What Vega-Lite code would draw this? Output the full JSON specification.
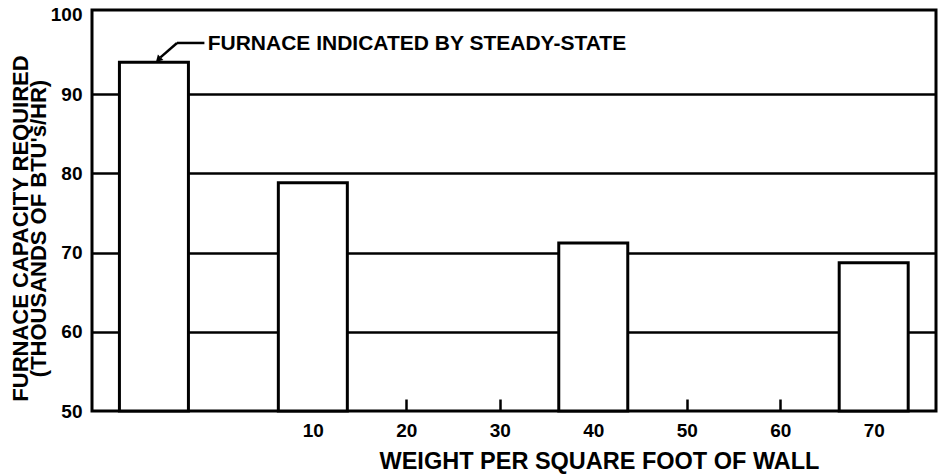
{
  "$schema": "https://vega.github.io/schema/vega-lite/v6.json",
  "width": 844,
  "height": 401,
  "autosize": "none",
  "padding": {"left": 92, "top": 10, "right": 5, "bottom": 63},
  "background": "white",
  "config": {
    "view": {"stroke": "black", "strokeWidth": 3},
    "font": "Liberation Sans"
  },
  "data": {
    "values": [
      {"case": "Steady-state", "weight": -7, "capacity": 94.0},
      {"case": "10", "weight": 10, "capacity": 78.8},
      {"case": "40", "weight": 40, "capacity": 71.2},
      {"case": "70", "weight": 70, "capacity": 68.7}
    ]
  },
  "layer": [
    {
      "mark": {"type": "bar", "width": 69, "fill": "white", "stroke": "black", "strokeWidth": 3},
      "encoding": {
        "x": {
          "field": "weight", "type": "quantitative",
          "scale": {"domain": [-13.09, 76.13], "nice": false, "zero": false},
          "axis": {
            "values": [10, 20, 30, 40, 50, 60, 70],
            "domain": false,
            "grid": false,
            "ticks": true,
            "tickSize": -12,
            "tickWidth": 2.5,
            "tickColor": "black",
            "labelFont": "Liberation Sans",
            "labelFontWeight": "bold",
            "labelFontSize": 19,
            "labelColor": "black",
            "labelPadding": 22,
            "labelBaseline": "top",
            "title": "WEIGHT PER SQUARE FOOT OF WALL",
            "titleFont": "Liberation Sans",
            "titleFontWeight": "bold",
            "titleFontSize": 23.5,
            "titleColor": "black",
            "titleX": 507,
            "titleY": 50,
            "titleAlign": "center",
            "titleBaseline": "middle"
          }
        },
        "y": {
          "field": "capacity", "type": "quantitative",
          "scale": {"domain": [50, 100.6], "nice": false, "zero": false},
          "axis": {
            "values": [50, 60, 70, 80, 90, 100],
            "domain": false,
            "ticks": false,
            "grid": true,
            "gridColor": "black",
            "gridWidth": 2.5,
            "gridOpacity": {"condition": {"test": "datum.value >= 100 || datum.value <= 50", "value": 0}, "value": 1},
            "labelFont": "Liberation Sans",
            "labelFontWeight": "bold",
            "labelFontSize": 19,
            "labelColor": "black",
            "labelPadding": 10,
            "title": ["FURNACE CAPACITY REQUIRED", "(THOUSANDS OF BTU's/HR)"],
            "titleFont": "Liberation Sans",
            "titleFontWeight": "bold",
            "titleFontSize": 22,
            "titleLineHeight": 18,
            "titleColor": "black",
            "titleAngle": 270,
            "titleX": -72,
            "titleY": 218,
            "titleAlign": "center",
            "titleBaseline": "middle"
          }
        },
        "y2": {"datum": 50}
      }
    },
    {
      "data": {"values": [{}]},
      "mark": {"type": "text", "align": "left", "baseline": "middle", "fontSize": 21, "fontWeight": "bold", "font": "Liberation Sans", "color": "black"},
      "encoding": {
        "x": {"datum": -1.25, "type": "quantitative"},
        "y": {"datum": 96.3, "type": "quantitative"},
        "text": {"value": "FURNACE INDICATED BY STEADY-STATE"}
      }
    },
    {
      "data": {"values": [{}]},
      "mark": {"type": "rule", "color": "black", "strokeWidth": 2.5},
      "encoding": {
        "x": {"datum": -1.6, "type": "quantitative"},
        "x2": {"datum": -4.53},
        "y": {"datum": 96.44, "type": "quantitative"},
        "y2": {"datum": 96.44}
      }
    },
    {
      "data": {"values": [{}]},
      "mark": {"type": "rule", "color": "black", "strokeWidth": 2.5},
      "encoding": {
        "x": {"datum": -4.53, "type": "quantitative"},
        "x2": {"datum": -6.3},
        "y": {"datum": 96.44, "type": "quantitative"},
        "y2": {"datum": 94.62}
      }
    },
    {
      "data": {"values": [{}]},
      "mark": {"type": "point", "shape": "triangle", "filled": true, "color": "black", "size": 60, "angle": 225, "opacity": 1},
      "encoding": {
        "x": {"datum": -6.45, "type": "quantitative"},
        "y": {"datum": 94.45, "type": "quantitative"}
      }
    }
  ]
}
